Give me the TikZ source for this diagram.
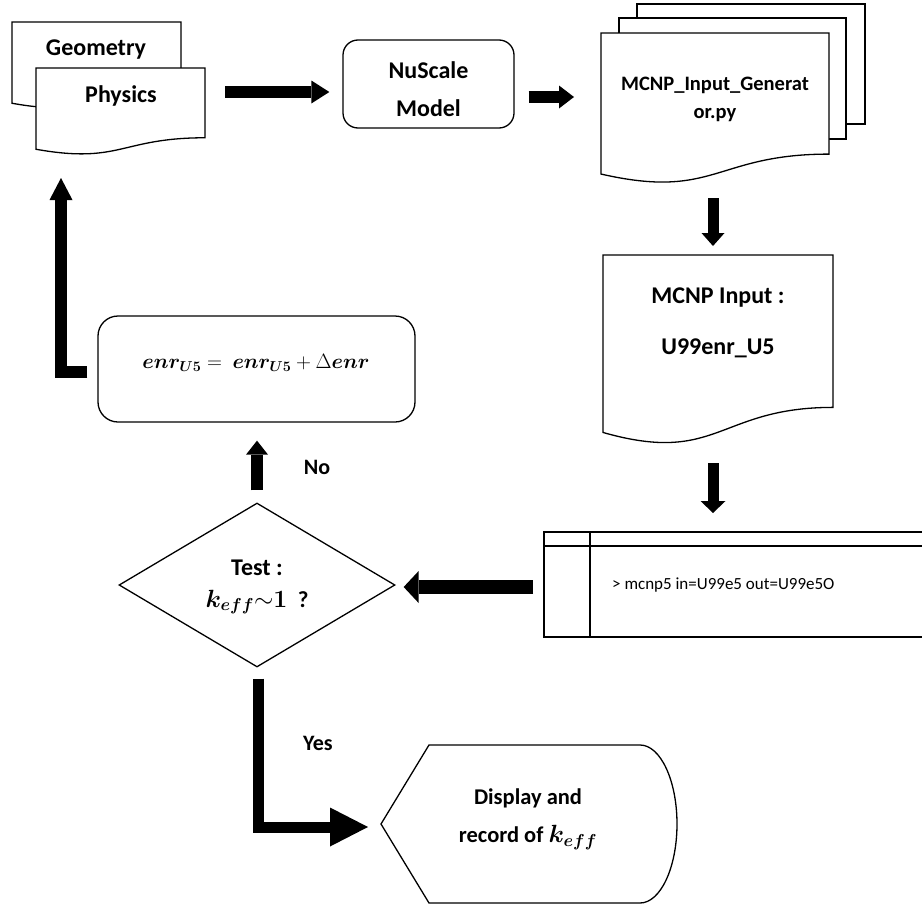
\documentclass[tikz,border=0pt]{standalone}
\usepackage{amsmath}
\usepackage{bm}
\usepackage[no-math]{fontspec}
\setmainfont{Carlito}
\usetikzlibrary{arrows.meta,shapes.geometric,calc}
\newcommand\docoutline[4]{% x0,y0,x1,h
  \draw[outl] (#1,#2) -- (#3,#2) -- (#3,{#2+0.802*#4})
    .. controls ({(#1+#3)/2},{#2+0.802*#4}) and ({(#1+#3)/2},{#2+1.107*#4}) .. (#1,{#2+0.934*#4}) -- cycle;}
\newcommand\enrformula{$\bm{enr}_{\bm{U}\mathbf{5}}=\mkern4mu \bm{enr}_{\bm{U}\mathbf{5}}+\Delta\bm{enr}$}
\newcommand\keff{\bm{k}_{\bm{eff}}}
\tikzset{
  outl/.style={draw, line width=1.3pt, fill=white, line join=miter},
  hold/.style={draw=none, inner sep=0pt, outer sep=0pt},
  lbl/.style={font=\fontsize{24}{38}\selectfont\bfseries, inner sep=0pt, align=center},
  sidelbl/.style={font=\fontsize{22}{26}\selectfont\bfseries, inner sep=0pt, align=center},
  mth/.style={font=\fontsize{21.5}{26}\selectfont, inner sep=0pt, align=center},
  fatarrow/.style n args={3}{draw, line width=#1,
    -{Triangle[length=#2, width=#3, line width=0pt]}},
}
\begin{document}
\begin{tikzpicture}[x=1pt,y=-1pt]
\useasboundingbox (0,0) rectangle (922,905);
% --- Geometry / Physics documents
\node[hold, minimum width=169pt, minimum height=87pt] (geombox) at (96.5,65.5) {};
\node[hold, minimum width=169pt, minimum height=87pt] (physbox) at (120.5,111.5) {};
\docoutline{12}{22}{181}{87}
\docoutline{36}{68}{205}{87}
\node[lbl] (geomtxt) at (96,50) {Geometry};
\node[lbl] (phystxt) at (121,96) {Physics};
% --- NuScale
\node[draw, line width=1.3pt, rounded corners=15pt, minimum width=171pt, minimum height=88pt] (nus) at (428.5,84) {};
\node[lbl] (nustxt) at (428.5,89) {NuScale\\Model};
% --- MCNP input generator (multi-document)
\draw[outl] (637,4) rectangle (865,124);
\draw[outl] (619,18) rectangle (846,139);
\node[hold, minimum width=228pt, minimum height=151pt] (genbox) at (715,108.5) {};
\docoutline{601}{33}{829}{151}
\node[lbl, font=\fontsize{20.5}{28}\selectfont\bfseries] (gentxt) at (715,99) {MCNP\_Input\_Generat\\or.py};
% --- MCNP input
\node[hold, minimum width=230pt, minimum height=190pt] (inbox) at (718,350) {};
\docoutline{603}{255}{833}{190}
\node[lbl] (intxt1) at (718,298) {MCNP Input :};
\node[lbl] (intxt2) at (718,348) {U99enr\_U5};
% --- terminal
\node[hold, minimum width=378pt, minimum height=105pt] (term) at (733,584.5) {};
\draw[line width=1.3pt] (922,532) -- (544,532) -- (544,637) -- (922,637);
\draw[line width=1.3pt] (544,546) -- (922,546);
\draw[line width=1.3pt] (590,532) -- (590,637);
\node[anchor=west, inner sep=0pt, font=\fontsize{17}{21}\selectfont] (termtxt) at (612,585) {> mcnp5 in=U99e5 out=U99e5O};
% --- decision
\node[draw, line width=1.3pt, diamond, minimum width=276pt, minimum height=164pt, inner sep=0pt] (test) at (257,585) {};
\node[lbl] (testtxt1) at (257,568) {Test :};
\node[lbl, font=\fontsize{23}{26}\selectfont\bfseries] (testtxt2) at (257,602) {$\keff{\sim}\mathbf{1}$\ \ ?};
% --- update
\node[draw, line width=1.3pt, rounded corners=20pt, minimum width=317pt, minimum height=106pt] (enr) at (256.5,369) {};
\node[mth] (enrtxt) at (256,363) {\enrformula};
% --- display
\node[hold, minimum width=296pt, minimum height=158pt] (disp) at (529,824) {};
\draw[outl] (429,745) -- (640,745) arc[start angle=-90, end angle=90, x radius=37, y radius=79] -- (429,903) -- (381,824) -- cycle;
\node[lbl, font=\fontsize{22.5}{38}\selectfont\bfseries] (disptxt) at (528,819) {Display and\\record of {\fontsize{25}{30}\selectfont$\keff$}};
% --- labels
\node[sidelbl] (nolbl) at (317,467) {No};
\node[sidelbl] (yeslbl) at (318,743) {Yes};
% --- connectors
\draw[fatarrow={12pt}{18pt}{23pt}] ($(physbox.east)+(20,-19.5)$) -- ($(nus.west)+(-13,8)$);
\draw[fatarrow={12pt}{15pt}{23pt}] ($(nus.east)+(14,13)$) -- ($(genbox.west)+(-27,-11.5)$);
\draw[fatarrow={11pt}{13pt}{23pt}] ($(genbox.south)+(-2,14)$) -- ($(inbox.north)+(-5,-9)$);
\draw[fatarrow={11pt}{12pt}{25pt}] ($(inbox.south)+(-5,18)$) -- ($(term.north)+(-20,-19)$);
\draw[fatarrow={14pt}{15pt}{32pt}] ($(term.west)+(-11,2.5)$) -- ($(test.east)+(8,2)$);
\draw[fatarrow={12pt}{14pt}{22pt}] ($(test.north)+(0,-12)$) -- ($(enr.south)+(0.5,18)$);
\draw[fatarrow={12pt}{22pt}{23pt}] ($(enr.west)+(-10,2.5)$) -| ($(physbox.south)+(-59.5,23)$);
\draw[fatarrow={11pt}{38pt}{39pt}] ($(test.south)+(1,11)$) |- ($(disp.west)+(-13,3)$);
\end{tikzpicture}
\end{document}
